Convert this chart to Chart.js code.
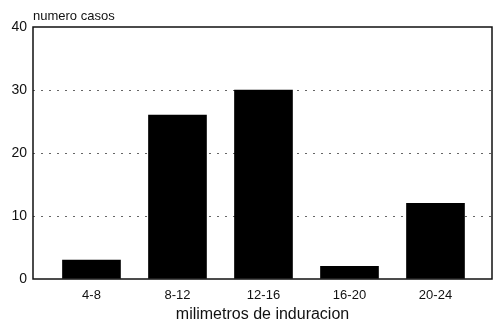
<!DOCTYPE html>
<html>
<head>
<meta charset="utf-8">
<script src="https://cdn.jsdelivr.net/npm/chart.js@4"></script>
<style>
  html, body { margin: 0; background: #fff; }
  #wrap { width: 495px; height: 324px; }
</style>
</head>
<body>
<div id="wrap"><canvas id="chart"></canvas></div>
<script>
const categories = ['4-8', '8-12', '12-16', '16-20', '20-24'];
const casos = [3, 26, 30, 2, 12];
const yTitle = 'numero casos';
const xTitle = 'milimetros de induracion';

const FONT = "'Liberation Sans', Arial, sans-serif";

// frame around the plot + the small title above the y axis
const framePlugin = {
  id: 'frame',
  afterDatasetsDraw(chart) {
    const { ctx, chartArea: a } = chart;
    ctx.save();
    ctx.strokeStyle = '#111';
    ctx.lineWidth = 1.5;
    ctx.strokeRect(a.left, a.top, a.right - a.left, a.bottom - a.top);
    ctx.fillStyle = '#111';
    ctx.font = '13px ' + FONT;
    ctx.textBaseline = 'alphabetic';
    ctx.fillText(yTitle, a.left, a.top - 7);
    ctx.restore();
  }
};

new Chart(document.getElementById('chart'), {
  type: 'bar',
  data: {
    datasets: [{
      data: casos.map((v, i) => ({ x: i, y: v })),
      backgroundColor: '#000',
      borderWidth: 0,
      barThickness: 58
    }]
  },
  options: {
    responsive: true,
    maintainAspectRatio: false,
    animation: false,
    layout: { padding: { top: 27, right: 3, left: 0, bottom: 0 } },
    plugins: { legend: { display: false }, tooltip: { enabled: false } },
    scales: {
      x: {
        type: 'linear',
        offset: false,
        min: -0.68,
        max: 4.657,
        afterBuildTicks: axis => { axis.ticks = categories.map((c, i) => ({ value: i })); },
        afterFit: axis => { axis.height = 45; },
        grid: { display: false, drawTicks: false },
        border: { display: false },
        ticks: {
          padding: 9,
          color: '#111',
          font: { family: FONT, size: 13 },
          callback: v => categories[v]
        },
        title: {
          display: true,
          text: xTitle,
          color: '#111',
          font: { family: FONT, size: 16 },
          padding: { top: 7, bottom: 0 }
        }
      },
      y: {
        min: 0,
        max: 40,
        afterFit: axis => { axis.width = 33; },
        ticks: {
          stepSize: 10,
          padding: 6,
          color: '#111',
          font: { family: FONT, size: 14 }
        },
        grid: {
          drawTicks: false,
          color: c => (c.tick.value === 0 || c.tick.value === 40) ? 'rgba(0,0,0,0)' : '#666'
        },
        border: { display: false, dash: [2, 6] }
      }
    }
  },
  plugins: [framePlugin]
});
</script>
</body>
</html>
